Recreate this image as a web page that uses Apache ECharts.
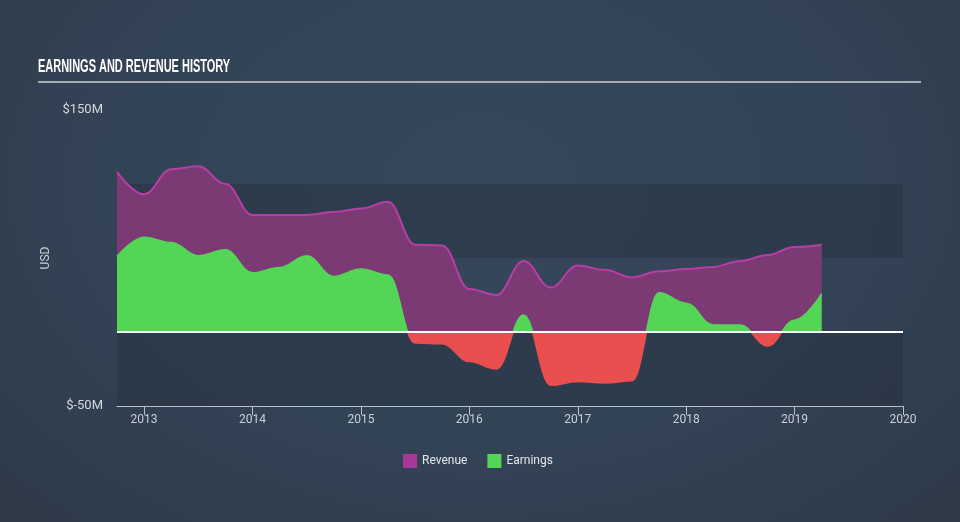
<!DOCTYPE html>
<html>
<head>
<meta charset="utf-8">
<script src="https://cdn.jsdelivr.net/npm/echarts@6/dist/echarts.min.js"></script>
<style>
html,body{margin:0;padding:0;width:960px;height:522px;overflow:hidden;
background:radial-gradient(ellipse at 50% 35%, #37485b 0%, #334356 55%, #2e3a48 100%);}
#chart{width:960px;height:522px;}
</style>
</head>
<body>
<div id="chart"></div>
<script>
// Dates as decimal years
const dates = [2012.75,2013.0,2013.25,2013.5,2013.75,2014.0,2014.25,2014.5,2014.75,2015.0,2015.25,2015.5,2015.75,2016.0,2016.25,2016.5,2016.75,2017.0,2017.25,2017.5,2017.75,2018.0,2018.25,2018.5,2018.75,2019.0,2019.25];
// Revenue, USD millions
const revenue = [108,93,110,112,100,79,79,79,81,83.5,88,59,58.5,29,25,48,30,45,42,37,41,42.5,44,48,52,57.5,59];
// Earnings, USD millions
const earnings = [51,64,60.5,51.5,55.5,40,43.5,51.5,37.5,42.5,38.5,-7.5,-8,-20,-25,11.5,-36,-33.5,-34.5,-33,26.5,19.5,4.7,4.7,-9.5,8,26];
const yearTicks = [2013,2014,2015,2016,2017,2018,2019,2020];
const yTickLabels = {"150":"$150M","-50":"$-50M"};

const chart = echarts.init(document.getElementById('chart'), null, {renderer:'canvas'});
const revData = dates.map((d,i)=>[d,revenue[i]]);
const earnData = dates.map((d,i)=>[d,earnings[i]]);
const font = 'Roboto, "Noto Sans", sans-serif';

chart.setOption({
  backgroundColor: 'transparent',
  animation: false,
  graphic: [
    {type:'text', left:38, top:58, scaleX:0.61,
      style:{text:'EARNINGS AND REVENUE HISTORY', fill:'#ffffff',
      font:'bold 18px "Liberation Sans", sans-serif'}},
    {type:'line', shape:{x1:38,y1:82,x2:921,y2:82}, style:{stroke:'#a3abb3', lineWidth:2}}
  ],
  grid: {left:117, right:57, top:110, bottom:116, containLabel:false},
  legend: {
    left: 398, top: 449, icon:'rect', itemWidth:14, itemHeight:14, itemGap:20,
    textStyle:{color:'#e2e6ea', fontSize:12, fontFamily:font},
    data:['Revenue','Earnings']
  },
  visualMap: {
    show:false, type:'piecewise', seriesIndex:1, dimension:1,
    pieces:[{min:-500, max:0, color:'#ea4f4f'},{min:0, max:500, color:'#53d655'}]
  },
  xAxis: {
    type:'value', min:2012.75, max:2020,
    splitLine:{show:false},
    axisLine:{onZero:false, lineStyle:{color:'#b9c1c9', width:1}},
    axisTick:{show:true, length:9, lineStyle:{color:'#b9c1c9'}, customValues:yearTicks},
    axisLabel:{color:'#c9cfd6', fontSize:12, fontFamily:font, margin:8, customValues:yearTicks,
      formatter:v=>String(Math.round(v))}
  },
  yAxis: {
    type:'value', min:-50, max:150, interval:50,
    name:'USD', nameLocation:'middle', nameRotate:90, nameGap:46,
    nameTextStyle:{color:'#c9cfd6', fontSize:12, fontFamily:font},
    axisLine:{show:false}, axisTick:{show:false},
    splitLine:{show:false},
    splitArea:{show:true, areaStyle:{color:['rgba(30,40,54,0.32)','rgba(0,0,0,0)']}},
    axisLabel:{color:'#d3d8dd', fontSize:13, fontFamily:font, margin:14,
      formatter:v=>yTickLabels[String(v)]||''}
  },
  series: [
    {
      name:'Revenue', type:'line', data:revData, smooth:0.4, smoothMonotone:'x',
      symbol:'none', showSymbol:false,
      itemStyle:{color:'#a8399a'},
      lineStyle:{color:'#b53fa4', width:2},
      areaStyle:{color:'#7b3a74', opacity:1},
      z:2
    },
    {
      name:'Earnings', type:'line', data:earnData, smooth:0.4, smoothMonotone:'x',
      symbol:'none', showSymbol:false,
      itemStyle:{color:'#53d655'},
      lineStyle:{width:1.5},
      areaStyle:{opacity:1},
      markLine:{silent:true, symbol:'none', label:{show:false},
        lineStyle:{color:'#ffffff', width:2, type:'solid'},
        data:[{yAxis:0}]},
      z:3
    }
  ]
});
</script>
</body>
</html>
